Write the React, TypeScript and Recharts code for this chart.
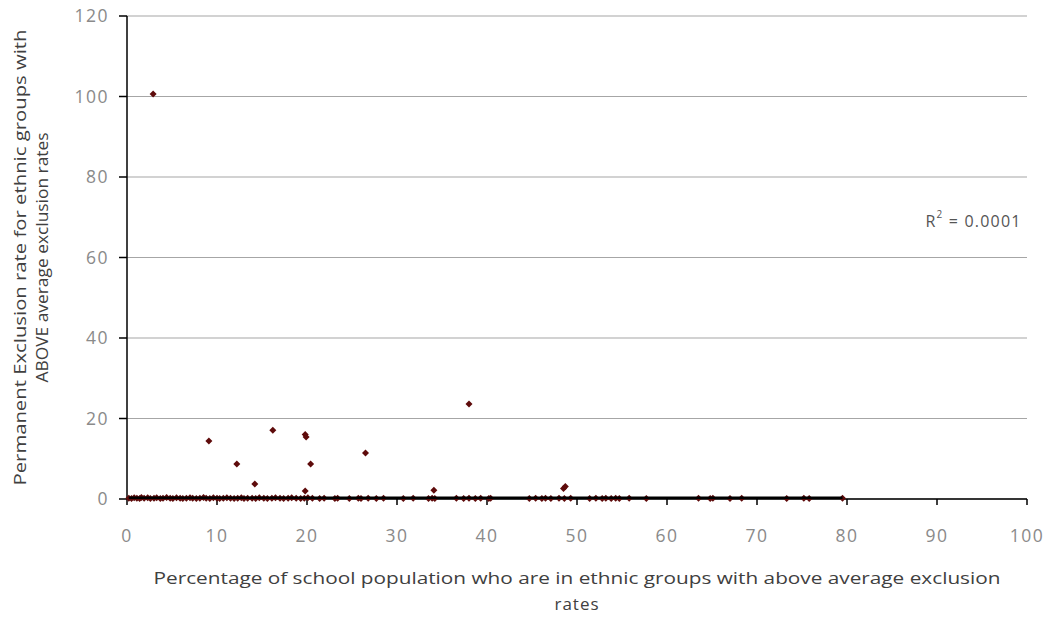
import { ScatterChart, Scatter, XAxis, YAxis, CartesianGrid, ReferenceDot } from 'recharts';

// outliers
const outlierX = [2.9, 9.1, 12.2, 14.2, 16.2, 19.8, 19.9, 20.4, 19.8, 26.5, 34.1, 38.0, 48.5, 48.7];
const outlierY = [100.6, 14.4, 8.7, 3.7, 17.1, 16.0, 15.4, 8.7, 2.0, 11.4, 2.2, 23.6, 2.6, 3.1];

// schools sitting at (or very near) zero
const zeroX = [
  0.2, 0.5, 0.8, 1.1, 1.4, 1.6, 1.9, 2.3, 2.6, 3.0, 3.3, 3.7, 4.0, 4.4, 4.8, 5.1, 5.5, 5.9, 6.2, 6.6,
  7.0, 7.3, 7.7, 8.1, 8.5, 8.8, 9.2, 9.6, 10.0, 10.3, 10.7, 11.1, 11.5, 11.9, 12.3, 12.7, 13.0, 13.4,
  13.9, 14.3, 14.7, 15.2, 15.6, 16.1, 16.5, 17.0, 17.4, 17.9, 18.3, 18.8, 19.3, 19.7, 20.1, 20.6,
  21.4, 21.9, 23.1, 23.4, 24.7, 25.7, 26.0, 26.8, 27.7, 28.5, 30.7, 31.8, 33.5, 33.9, 34.2, 36.6,
  37.4, 38.0, 38.7, 39.3, 40.2, 40.4, 44.7, 45.4, 46.1, 46.5, 47.1, 48.0, 48.6, 49.3, 51.4, 52.1,
  52.8, 53.2, 53.8, 54.3, 54.7, 55.8, 57.7, 63.5, 64.8, 65.1, 67.0, 68.3, 73.3, 75.2, 75.8, 79.5,
];
const zeroY = [
  0.2, 0.1, 0.3, 0.2, 0.1, 0.4, 0.2, 0.3, 0.1, 0.2, 0.3, 0.1, 0.2, 0.4, 0.2, 0.1, 0.3, 0.2, 0.1, 0.2,
  0.3, 0.2, 0.1, 0.2, 0.4, 0.2, 0.1, 0.3, 0.2, 0.1, 0.2, 0.3, 0.2, 0.1, 0.2, 0.3, 0.1, 0.2, 0.2,
  0.1, 0.3, 0.2, 0.1, 0.2, 0.3, 0.2, 0.1, 0.2, 0.3, 0.2, 0.1, 0.2, 0.3, 0.2, 0.1, 0.2, 0.1, 0.2,
  0.1, 0.2, 0.1, 0.2, 0.1, 0.2, 0.1, 0.2, 0.1, 0.2, 0.1, 0.2, 0.1, 0.2, 0.1, 0.2, 0.1, 0.2, 0.1,
  0.2, 0.1, 0.2, 0.1, 0.2, 0.1, 0.2, 0.1, 0.2, 0.1, 0.2, 0.1, 0.2, 0.1, 0.2, 0.1, 0.2, 0.1, 0.2,
  0.1, 0.2, 0.1, 0.2, 0.1, 0.2,
];

const trendX = [0.2, 79.5];
const trendY = [0.3, 0.3];

const xTicks = [0, 10, 20, 30, 40, 50, 60, 70, 80, 90, 100];
const yTicks = [0, 20, 40, 60, 80, 100, 120];

const points = [
  ...zeroX.map((x, i) => ({ x, y: zeroY[i] })),
  ...outlierX.map((x, i) => ({ x, y: outlierY[i] })),
];
const trend = trendX.map((x, i) => ({ x, y: trendY[i] }));

const FONT = '"Open Sans", "Liberation Sans", sans-serif';
const tickStyle = { fill: '#8a8a8a', fontSize: 17.5, fontFamily: FONT, letterSpacing: 1.5 };

const Marker = (p: any) => {
  const { cx, cy } = p;
  const s = 3.5;
  return (
    <path d={`M${cx},${cy - s} L${cx + s},${cy} L${cx},${cy + s} L${cx - s},${cy} Z`} fill="#5e0b0b" />
  );
};

const YTitle = (props: any) => {
  const { viewBox } = props;
  const cy = viewBox.y + viewBox.height / 2;
  return (
    <g fill="#404040" fontSize={16} fontFamily={FONT}>
      <text x={20} y={cy} transform={`rotate(-90, 20, ${cy})`} textAnchor="middle" dominantBaseline="central"
        textLength={456} lengthAdjust="spacingAndGlyphs">
        Permanent Exclusion rate for ethnic groups with
      </text>
      <text x={42} y={cy} transform={`rotate(-90, 42, ${cy})`} textAnchor="middle" dominantBaseline="central"
        textLength={250} lengthAdjust="spacingAndGlyphs">
        ABOVE average exclusion rates
      </text>
    </g>
  );
};

const XTitle = (props: any) => {
  const { viewBox } = props;
  const cx = viewBox.x + viewBox.width / 2;
  return (
    <g fill="#404040" fontSize={17} fontFamily={FONT}>
      <text x={cx} y={577} textAnchor="middle" dominantBaseline="central" textLength={847} lengthAdjust="spacingAndGlyphs">
        Percentage of school population who are in ethnic groups with above average exclusion
      </text>
      <text x={cx} y={603} textAnchor="middle" dominantBaseline="central" letterSpacing={1}>
        rates
      </text>
    </g>
  );
};

const RLabel = (props: any) => {
  const { viewBox } = props;
  return (
    <text x={viewBox.x} y={viewBox.y} fill="#555" fontSize={16} fontFamily={FONT} textAnchor="end"
      dominantBaseline="central" letterSpacing={1.2}>
      R<tspan dy={-7} fontSize={10}>2</tspan>
      <tspan dy={7}> = 0.0001</tspan>
    </text>
  );
};

export default function App() {
  return (
    <div style={{ margin: -8 }}>
      <ScatterChart width={1054} height={619} margin={{ top: 16, right: 27, bottom: 0, left: 8 }}>
        <CartesianGrid vertical={false} stroke="#a6a6a6" strokeWidth={1.2} />
        <XAxis
          type="number"
          dataKey="x"
          domain={[0, 100]}
          ticks={xTicks}
          interval={0}
          height={120}
          tickSize={6}
          tickMargin={25}
          axisLine={{ stroke: '#000', strokeWidth: 1.5 }}
          tickLine={{ stroke: '#000', strokeWidth: 1.5 }}
          tick={tickStyle}
          label={{ content: XTitle }}
        />
        <YAxis
          type="number"
          dataKey="y"
          domain={[0, 120]}
          ticks={yTicks}
          interval={0}
          width={119}
          tickSize={8}
          tickMargin={10}
          axisLine={{ stroke: '#000', strokeWidth: 1.5 }}
          tickLine={{ stroke: '#000', strokeWidth: 1.5 }}
          tick={tickStyle}
          label={{ content: YTitle }}
        />
        <Scatter data={points} shape={Marker} isAnimationActive={false} />
        <Scatter
          data={trend}
          line={{ stroke: '#000', strokeWidth: 2.5 }}
          lineType="joint"
          shape={() => <g />}
          isAnimationActive={false}
        />
        <ReferenceDot x={99.4} y={69} r={0} fill="none" stroke="none" label={{ content: RLabel }} />
      </ScatterChart>
    </div>
  );
}
